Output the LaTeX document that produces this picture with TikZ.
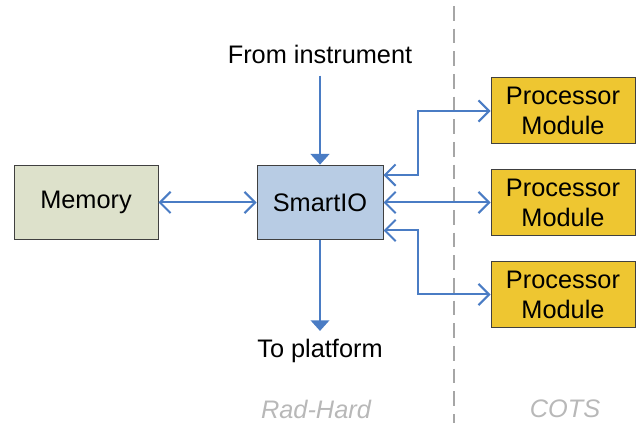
\documentclass[tikz,border=0pt]{standalone}
\usepackage{fontspec}
\setmainfont{Liberation Sans}
\usetikzlibrary{arrows.meta,calc}
\definecolor{linkblue}{HTML}{4A7CC4}
\definecolor{memfill}{HTML}{DDE1CB}
\definecolor{iofill}{HTML}{B8CCE4}
\definecolor{pmfill}{HTML}{EEC631}
\definecolor{zonegray}{HTML}{A6A6A6}
\tikzset{
  block/.style={draw=black!75, line width=0.75pt, align=center, font=\fontsize{19}{22.5}\selectfont, inner sep=0pt},
  label/.style={inner sep=0pt, font=\fontsize{19}{22.5}\selectfont},
  zone/.style={inner sep=0pt, text=black!28, font=\fontsize{19}{22.5}\selectfont\itshape},
  biarrow/.style={draw=linkblue, line width=1.5pt, {Straight Barb[length=8pt,width=16pt]}-{Straight Barb[length=8pt,width=16pt]}},
  onearrow/.style={draw=linkblue, line width=1.5pt, -{Triangle[length=8pt,width=14pt]}}
}
\begin{document}
\begin{tikzpicture}[x=0.75pt, y=-0.75pt]
        \useasboundingbox (0,0) rectangle (638,423);

        \draw[zonegray, line width=1.5pt, dash pattern=on 11pt off 6pt] (454,6) -- (454,423);

        \node[block, fill=memfill, minimum width=108pt, minimum height=56pt] (memory) at (86,202.5) {Memory};
        \node[block, fill=iofill, minimum width=94.5pt, minimum height=56pt] (smartio) at (320,202.5) {SmartIO};

        \node[block, fill=pmfill, minimum width=108pt, minimum height=49.5pt] (pm1) at (563,111) {Processor\\Module};
        \node[block, fill=pmfill, minimum width=108pt, minimum height=49.5pt] (pm2) at (563,202.5) {Processor\\Module};
        \node[block, fill=pmfill, minimum width=108pt, minimum height=49.5pt] (pm3) at (563,294.5) {Processor\\Module};

        \node[label] (instr) at (320,54) {From instrument};
        \node[label] (platform) at (320,351) {To platform};
        \node[zone] (radhard) at (316,409) {Rad-Hard};
        \node[zone] (cots) at (565,409) {COTS};

        \draw[biarrow] (memory) -- (smartio);
        \draw[onearrow] ([yshift=-9pt]instr.south) -- (smartio.north);
        \draw[onearrow] (smartio.south) -- ([yshift=6pt]platform.north);

        \draw[biarrow] ([yshift=20.6pt]smartio.east) -- ++(25.5pt,0) |- (pm1.west);
        \draw[biarrow] (smartio.east) -- (pm2.west);
        \draw[biarrow] ([yshift=-21pt]smartio.east) -- ++(25.5pt,0) |- (pm3.west);
        \end{tikzpicture}
\end{document}
